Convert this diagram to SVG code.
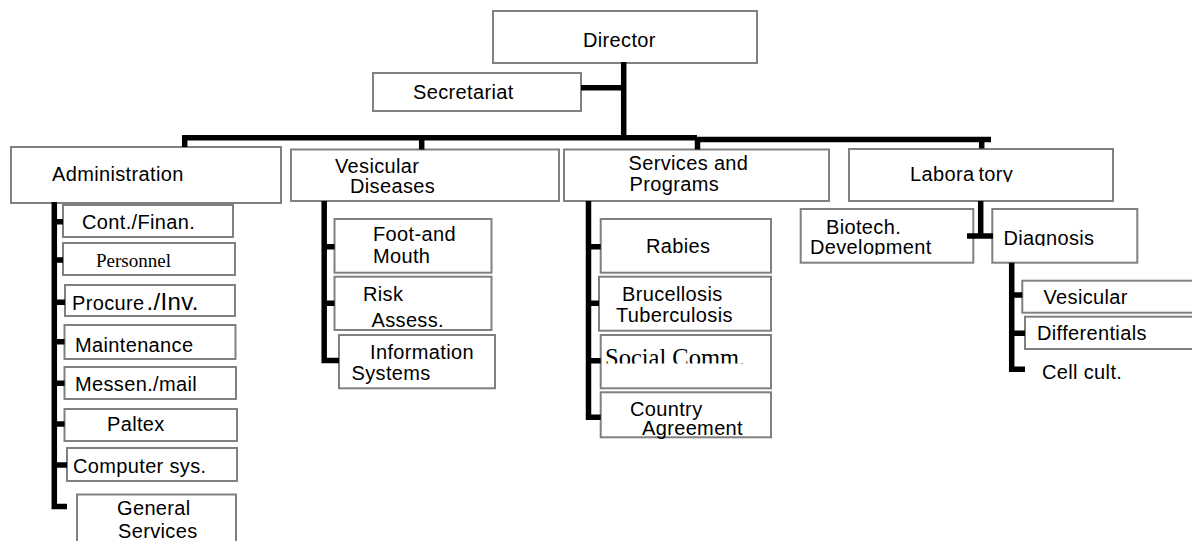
<svg xmlns="http://www.w3.org/2000/svg" width="1192" height="541" viewBox="0 0 1192 541">
<style>
.box{fill:#fff;stroke:#808080;stroke-width:2}
.t{font-family:"Liberation Sans",Arial,sans-serif;font-size:20px;letter-spacing:0.35px;fill:#000}
.s{font-family:"Liberation Serif","Times New Roman",serif;fill:#000}
.ln{fill:none;stroke:#000;stroke-width:5.5;stroke-linecap:butt;stroke-linejoin:miter}
</style>
<defs>
<clipPath id="cLab"><rect x="849" y="149" width="264" height="33"/></clipPath>
<clipPath id="cDev"><rect x="800" y="209" width="173" height="46"/></clipPath>
<clipPath id="cDiag"><rect x="992" y="209" width="145" height="37"/></clipPath>
<clipPath id="cSoc"><rect x="600" y="335" width="171" height="28.5"/></clipPath>
</defs>
<rect width="1192" height="541" fill="#fff"/>

<g id="director"><rect class="box" x="493" y="11" width="264" height="52"/><text class="t" x="583" y="47">Director</text></g>
<g id="secretariat"><rect class="box" x="373" y="73" width="208" height="38"/><text class="t" x="413" y="99">Secretariat</text></g>

<g id="administration"><rect class="box" x="11" y="147" width="270" height="56"/><text class="t" x="52" y="181">Administration</text></g>
<g id="cont-finan"><rect class="box" x="63" y="205" width="170" height="32"/><text class="t" x="82" y="229">Cont./Finan.</text></g>
<g id="personnel"><rect class="box" x="63" y="243" width="172" height="32"/><text class="s" x="96" y="267" font-size="19">Personnel</text></g>
<g id="procure"><rect class="box" x="65" y="285" width="170" height="31"/><text class="t" x="72" y="310" font-size="18">Procure <tspan dx="-4" font-size="24">./Inv.</tspan></text></g>
<g id="maintenance"><rect class="box" x="64.5" y="325" width="171" height="34"/><text class="t" x="75" y="352">Maintenance</text></g>
<g id="messen-mail"><rect class="box" x="64.5" y="367" width="171.5" height="32"/><text class="t" x="75" y="391">Messen./mail</text></g>
<g id="paltex"><rect class="box" x="64.5" y="409" width="172.5" height="32"/><text class="t" x="107" y="431">Paltex</text></g>
<g id="computer-sys"><rect class="box" x="67" y="448" width="170" height="33"/><text class="t" x="73" y="473">Computer sys.</text></g>
<g id="general-services"><rect class="box" x="77" y="494.5" width="159" height="60"/><text class="t" x="117" y="515">General</text><text class="t" x="118" y="538">Services</text></g>

<g id="vesicular-diseases"><rect class="box" x="291" y="149.5" width="268" height="51.5"/><text class="t" x="335" y="173">Vesicular</text><text class="t" x="350" y="193">Diseases</text></g>
<g id="foot-and-mouth"><rect class="box" x="334.5" y="219" width="157" height="53.7"/><text class="t" x="373" y="241" font-size="18">Foot-and</text><text class="t" x="373" y="262.5" font-size="18">Mouth</text></g>
<g id="risk-assess"><rect class="box" x="334.5" y="276.7" width="157" height="53.3"/><text class="t" x="363" y="301" font-size="18">Risk</text><text class="t" x="371.5" y="326.5" font-size="17.5">Assess.</text></g>
<g id="information-systems"><rect class="box" x="339" y="335" width="156" height="53.3"/><text class="t" x="370" y="358.5">Information</text><text class="t" x="351.5" y="380">Systems</text></g>

<g id="services-programs"><rect class="box" x="564" y="149.5" width="265" height="51.5"/><text class="t" x="628.5" y="169.5" font-size="17" letter-spacing="0.8">Services and</text><text class="t" x="629.5" y="190.5" font-size="17" letter-spacing="0.8">Programs</text></g>
<g id="rabies"><rect class="box" x="600.7" y="219" width="170.3" height="53.7"/><text class="t" x="646" y="252.5">Rabies</text></g>
<g id="brucellosis-tuberculosis"><rect class="box" x="599" y="276.7" width="172" height="54"/><text class="t" x="622" y="301">Brucellosis</text><text class="t" x="616" y="322">Tuberculosis</text></g>
<g id="social-comm"><rect class="box" x="600.7" y="335" width="170.3" height="53.3"/><text class="s" x="605" y="366" font-size="24.5" clip-path="url(#cSoc)">Social Comm.</text></g>
<g id="country-agreement"><rect class="box" x="600.7" y="392.3" width="170.3" height="45"/><text class="t" x="630" y="415.5" font-size="19" letter-spacing="0.6">Country</text><text class="t" x="642" y="435" font-size="19" letter-spacing="0.6">Agreement</text></g>

<g id="laboratory"><rect class="box" x="849" y="149" width="264" height="52"/><text class="t" x="910" y="181" clip-path="url(#cLab)">Labora<tspan dx="4">tory</tspan></text></g>
<g id="biotech-development"><rect class="box" x="800.7" y="209" width="172.6" height="53.7"/><text class="t" x="826" y="233.5">Biotech.</text><text class="t" x="810" y="253.5" clip-path="url(#cDev)">Development</text></g>
<g id="diagnosis"><rect class="box" x="992.3" y="209" width="145" height="53.7"/><text class="t" x="1003.5" y="244.5" clip-path="url(#cDiag)">Diagnosis</text></g>
<g id="vesicular-lab"><rect class="box" x="1022.3" y="280.7" width="190" height="32"/><text class="t" x="1043.5" y="303.5">Vesicular</text></g>
<g id="differentials"><rect class="box" x="1025" y="316.7" width="190" height="32.3"/><text class="t" x="1037" y="340">Differentials</text></g>
<g id="cell-cult"><text class="t" x="1042" y="379">Cell cult.</text></g>

<g id="connectors">
<path class="ln" d="M623.7,62 V138"/>
<path class="ln" d="M581,87.8 H624"/>
<path class="ln" d="M182,137.8 H697"/>
<path class="ln" d="M695,139.5 H991"/>
<path class="ln" d="M184.7,137 V147"/>
<path class="ln" d="M421.7,138 V149.5"/>
<path class="ln" d="M697.5,139 V149.5"/>
<path class="ln" d="M981.7,140 V148.5"/>
<path class="ln" d="M54.3,202 V506.5 H67"/>
<path class="ln" d="M54,221.7 H63 M54,260 H63 M54,302.2 H65 M54,341.7 H64.5 M54,383.3 H64.5 M54,424 H64.5 M54,465 H67"/>
<path class="ln" d="M324.2,201 V360.5 H339"/>
<path class="ln" d="M324,246.7 H334.5 M324,303.3 H334.5"/>
<path class="ln" d="M588.5,201 V417.3 H600.7"/>
<path class="ln" d="M588,246.7 H600.7 M588,303.3 H599 M588,360.7 H600.7"/>
<path class="ln" d="M980.7,201 V236"/>
<path class="ln" d="M967,236 H993"/>
<path class="ln" d="M1011.7,262.7 V369.3 H1025"/>
<path class="ln" d="M1011,295 H1022.3 M1011,333.3 H1025"/>
</g>
</svg>
